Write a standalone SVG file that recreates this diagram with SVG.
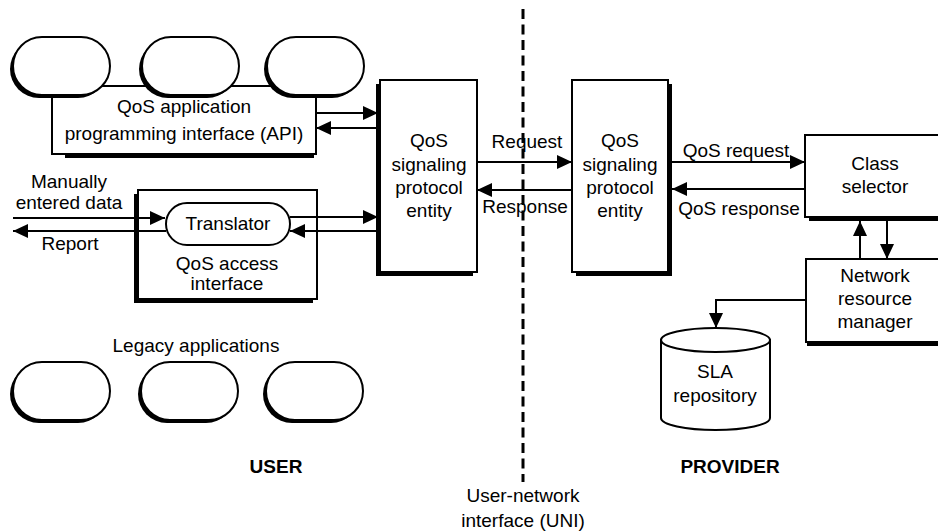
<svg xmlns="http://www.w3.org/2000/svg" width="938" height="531" viewBox="0 0 938 531">
  <style>
    text { font-family: "Liberation Sans", Arial, sans-serif; font-size: 19px; fill: #000; text-anchor: middle; }
    .bold { font-weight: bold; }
    .box { fill: #fff; stroke: #000; stroke-width: 2; }
    .shadow { fill: #000; stroke: none; }
    .thin { fill: #fff; stroke: #000; stroke-width: 2; }
    .conn { fill: none; stroke: #000; stroke-width: 2; marker-end: url(#ah); }
    .uni { fill: none; stroke: #000; stroke-width: 3; stroke-dasharray: 10 5.5; }
  </style>
  <defs>
    <marker id="ah" viewBox="0 0 15 14" refX="15" refY="7" markerWidth="15" markerHeight="14" markerUnits="userSpaceOnUse" orient="auto">
      <path d="M0,0 L15,7 L0,14 Z" fill="#000"/>
    </marker>
  </defs>
  <rect width="938" height="531" fill="#fff"/>

  <!-- user-network interface boundary -->
  <g id="uni-line">
    <line class="uni" x1="523" y1="9" x2="523" y2="482"/>
  </g>

  <!-- QoS API box (drawn beneath the application pills) -->
  <g id="api">
    <rect class="shadow" x="65" y="154" width="249" height="4"/>
    <rect class="box" x="52" y="86" width="264" height="68"/>
    <text x="184" y="113">QoS application</text>
    <text x="184" y="140">programming interface (API)</text>
  </g>

  <!-- applications above the API -->
  <g id="app1">
    <rect class="shadow" x="10" y="40" width="97" height="58" rx="29"/>
    <rect class="box" x="13" y="37" width="97" height="58" rx="29"/>
  </g>
  <g id="app2">
    <rect class="shadow" x="139" y="40" width="97" height="58" rx="29"/>
    <rect class="box" x="142" y="37" width="97" height="58" rx="29"/>
  </g>
  <g id="app3">
    <rect class="shadow" x="264" y="40" width="97" height="58" rx="29"/>
    <rect class="box" x="267" y="37" width="97" height="58" rx="29"/>
  </g>

  <!-- QoS access interface with translator -->
  <g id="access">
    <rect class="shadow" x="134" y="194" width="179" height="109"/>
    <rect class="box" x="138" y="190" width="179" height="109"/>
    <text x="227" y="270">QoS access</text>
    <text x="227" y="290">interface</text>
  </g>
  <g id="translator">
    <rect class="thin" x="166" y="203" width="124" height="42" rx="21"/>
    <text x="228" y="230">Translator</text>
  </g>

  <!-- user-side signaling entity -->
  <g id="sig-user">
    <rect class="shadow" x="376" y="84" width="97" height="192"/>
    <rect class="box" x="380" y="80" width="97" height="192"/>
    <text x="429" y="147">QoS</text>
    <text x="429" y="170.5">signaling</text>
    <text x="429" y="194">protocol</text>
    <text x="429" y="217">entity</text>
  </g>

  <!-- provider-side signaling entity -->
  <g id="sig-provider">
    <rect class="shadow" x="576" y="84" width="96" height="192"/>
    <rect class="box" x="572" y="80" width="96" height="192"/>
    <text x="620" y="147">QoS</text>
    <text x="620" y="170.5">signaling</text>
    <text x="620" y="194">protocol</text>
    <text x="620" y="217">entity</text>
  </g>

  <!-- class selector -->
  <g id="class-selector">
    <rect class="shadow" x="809" y="139" width="140" height="82"/>
    <rect class="box" x="805" y="135" width="140" height="82"/>
    <text x="875" y="170">Class</text>
    <text x="875" y="193">selector</text>
  </g>

  <!-- network resource manager -->
  <g id="nrm">
    <rect class="shadow" x="807" y="263" width="140" height="83"/>
    <rect class="box" x="806" y="259" width="140" height="83"/>
    <text x="875" y="282">Network</text>
    <text x="875" y="305">resource</text>
    <text x="875" y="328">manager</text>
  </g>

  <!-- SLA repository -->
  <g id="sla">
    <path class="box" d="M661,340 V418 A54.5,12 0 0,0 770,418 V340 Z"/>
    <ellipse class="box" cx="715.5" cy="340" rx="54.5" ry="12"/>
    <text x="715" y="378">SLA</text>
    <text x="715" y="402">repository</text>
  </g>

  <!-- legacy applications -->
  <g id="legacy1">
    <rect class="shadow" x="10" y="365" width="97" height="58" rx="29"/>
    <rect class="box" x="13" y="362" width="97" height="58" rx="29"/>
  </g>
  <g id="legacy2">
    <rect class="shadow" x="138" y="365" width="97" height="58" rx="29"/>
    <rect class="box" x="141" y="362" width="97" height="58" rx="29"/>
  </g>
  <g id="legacy3">
    <rect class="shadow" x="263" y="365" width="97" height="58" rx="29"/>
    <rect class="box" x="266" y="362" width="97" height="58" rx="29"/>
  </g>

  <!-- connectors -->
  <g id="connectors">
    <path class="conn" d="M316,113 H378"/>
    <path class="conn" d="M378,128 H316"/>
    <path class="conn" d="M13,218 H165"/>
    <path class="conn" d="M166,231 H13"/>
    <path class="conn" d="M290,217 H378"/>
    <path class="conn" d="M378,231 H290"/>
    <path class="conn" d="M477,162 H572"/>
    <path class="conn" d="M572,190 H477"/>
    <path class="conn" d="M672,162 H805"/>
    <path class="conn" d="M805,189 H672"/>
    <path class="conn" d="M860,259 V221"/>
    <path class="conn" d="M887,221 V259"/>
    <path class="conn" d="M806,300 H716 V328"/>
  </g>

  <!-- labels -->
  <g id="labels">
    <text x="527" y="148">Request</text>
    <text x="525" y="213">Response</text>
    <text x="736" y="157">QoS request</text>
    <text x="739" y="215">QoS response</text>
    <text x="69" y="188">Manually</text>
    <text x="69" y="209">entered data</text>
    <text x="70" y="250">Report</text>
    <text x="196" y="352">Legacy applications</text>
    <text class="bold" x="276" y="473">USER</text>
    <text class="bold" x="730" y="473">PROVIDER</text>
    <text x="523" y="502">User-network</text>
    <text x="523" y="527">interface (UNI)</text>
  </g>
</svg>
